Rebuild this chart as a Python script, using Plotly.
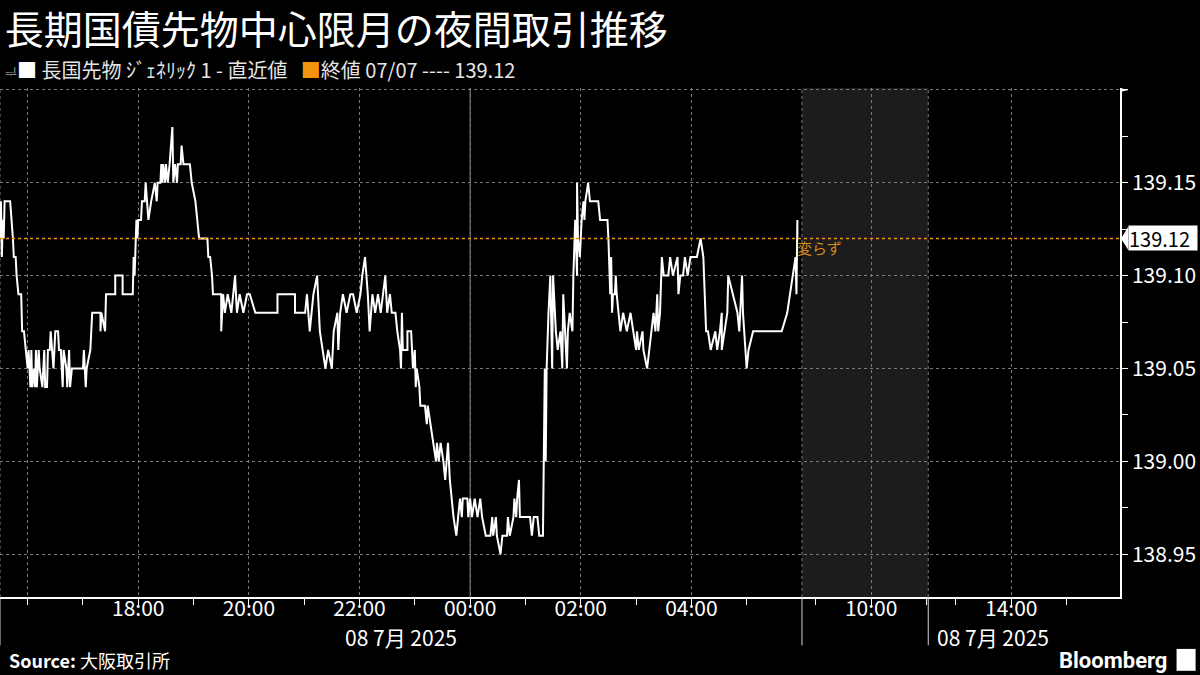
import pandas as pd
import plotly.graph_objects as go


##### DATA
# night session starts 07/07 15:30, times as minutes after the open
session_open = pd.Timestamp("2025-07-07 15:30")

minutes_from_open = [
    0, 1, 2, 3, 4, 5, 9, 11, 14, 15, 17, 18, 20, 23, 24, 26, 28, 30, 31, 33,
    34, 35, 37, 38, 39, 40, 42, 43, 46, 48, 49, 51, 52, 54, 55, 58, 60, 61, 63, 64,
    66, 67, 68, 69, 72, 73, 75, 76, 78, 81, 87, 90, 91, 93, 94, 98, 100, 109, 109, 110,
    114, 115, 125, 125, 133, 133, 144, 145, 146, 148, 149, 150, 153, 154, 157, 158, 161, 164, 168, 170,
    171, 174, 175, 176, 177, 179, 180, 182, 184, 187, 188, 190, 192, 193, 196, 197, 199, 206, 208, 212,
    214, 216, 217, 225, 226, 228, 230, 231, 233, 240, 240, 242, 244, 247, 251, 255, 257, 260, 264, 268,
    271, 277, 301, 301, 320, 320, 331, 333, 336, 340, 344, 347, 350, 353, 356, 360, 362, 366, 367, 369,
    372, 376, 380, 383, 387, 391, 393, 396, 399, 401, 404, 407, 410, 413, 418, 420, 423, 425, 429, 431,
    434, 435, 436, 437, 442, 442, 446, 447, 448, 450, 451, 452, 455, 456, 461, 463, 464, 467, 470, 473,
    474, 476, 478, 481, 483, 486, 488, 492, 495, 497, 499, 501, 502, 507, 508, 510, 512, 515, 518, 521,
    523, 527, 532, 534, 535, 538, 539, 543, 545, 550, 551, 553, 557, 558, 560, 561, 563, 564, 575, 577,
    579, 583, 585, 589, 590, 591, 592, 593, 595, 597, 599, 600, 603, 605, 608, 610, 611, 613, 615, 616,
    618, 621, 622, 624, 626, 626, 627, 629, 631, 633, 634, 635, 638, 640, 649, 651, 659, 660, 662, 663,
    664, 665, 667, 668, 669, 673, 676, 680, 684, 687, 690, 691, 693, 697, 698, 702, 707, 709, 711, 713,
    714, 716, 718, 720, 725, 727, 730, 735, 736, 738, 741, 743, 746, 749, 756, 760, 763, 766, 768, 771,
    776, 778, 781, 783, 783, 789, 790, 795, 800, 802, 805, 806, 810, 812, 817, 848, 854, 860, 863, 864,
    865, 865,
]

price = [
    139.12, 139.14, 139.11, 139.13, 139.12, 139.14, 139.14, 139.14, 139.12, 139.11, 139.11, 139.10, 139.09, 139.09, 139.07, 139.07, 139.06, 139.05, 139.06, 139.04,
    139.06, 139.04, 139.05, 139.04, 139.06, 139.04, 139.06, 139.05, 139.04, 139.06, 139.04, 139.04, 139.06, 139.06, 139.07, 139.05, 139.07, 139.07, 139.07, 139.06,
    139.06, 139.05, 139.04, 139.06, 139.05, 139.04, 139.06, 139.04, 139.05, 139.05, 139.05, 139.05, 139.06, 139.04, 139.05, 139.06, 139.08, 139.08, 139.07, 139.08,
    139.07, 139.09, 139.09, 139.10, 139.10, 139.09, 139.09, 139.11, 139.10, 139.13, 139.12, 139.13, 139.13, 139.14, 139.14, 139.15, 139.13, 139.14, 139.15, 139.14,
    139.15, 139.15, 139.16, 139.15, 139.16, 139.15, 139.16, 139.15, 139.16, 139.18, 139.15, 139.16, 139.15, 139.16, 139.16, 139.17, 139.16, 139.16, 139.15, 139.14,
    139.13, 139.12, 139.12, 139.12, 139.11, 139.11, 139.10, 139.09, 139.09, 139.09, 139.07, 139.09, 139.08, 139.09, 139.08, 139.10, 139.08, 139.09, 139.08, 139.09,
    139.09, 139.08, 139.08, 139.09, 139.09, 139.08, 139.08, 139.09, 139.07, 139.09, 139.10, 139.07, 139.06, 139.05, 139.06, 139.05, 139.07, 139.08, 139.06, 139.08,
    139.09, 139.08, 139.09, 139.09, 139.08, 139.09, 139.10, 139.11, 139.09, 139.07, 139.09, 139.08, 139.09, 139.08, 139.10, 139.08, 139.09, 139.08, 139.08, 139.07,
    139.06, 139.05, 139.08, 139.06, 139.06, 139.07, 139.07, 139.06, 139.05, 139.06, 139.04, 139.05, 139.04, 139.03, 139.03, 139.02, 139.03, 139.02, 139.01, 139.00,
    139.01, 139.00, 139.01, 139.00, 138.99, 139.01, 138.99, 138.97, 138.96, 138.97, 138.98, 138.97, 138.98, 138.98, 138.97, 138.98, 138.97, 138.98, 138.97, 138.98,
    138.97, 138.96, 138.96, 138.97, 138.96, 138.97, 138.96, 138.95, 138.96, 138.96, 138.97, 138.96, 138.97, 138.98, 138.97, 138.98, 138.99, 138.97, 138.97, 138.96,
    138.97, 138.97, 138.96, 138.96, 139.00, 139.05, 139.00, 139.05, 139.08, 139.10, 139.05, 139.10, 139.07, 139.06, 139.07, 139.05, 139.09, 139.07, 139.05, 139.07,
    139.08, 139.07, 139.10, 139.13, 139.10, 139.15, 139.12, 139.11, 139.13, 139.14, 139.13, 139.14, 139.15, 139.14, 139.14, 139.13, 139.13, 139.12, 139.09, 139.11,
    139.08, 139.09, 139.09, 139.10, 139.09, 139.07, 139.08, 139.07, 139.08, 139.07, 139.06, 139.07, 139.06, 139.07, 139.06, 139.05, 139.07, 139.08, 139.07, 139.09,
    139.07, 139.08, 139.11, 139.10, 139.10, 139.11, 139.10, 139.11, 139.09, 139.10, 139.10, 139.11, 139.10, 139.11, 139.11, 139.12, 139.11, 139.07, 139.07, 139.06,
    139.07, 139.06, 139.07, 139.08, 139.06, 139.08, 139.10, 139.09, 139.08, 139.07, 139.10, 139.08, 139.05, 139.06, 139.07, 139.07, 139.08, 139.10, 139.11, 139.09,
    139.13, 139.12,
]

prev_close = 139.12
prev_close_date = "07/07"

x_range = ["2025-07-07 15:30", "2025-07-08 15:58"]
session_breaks = [["2025-07-08 06:00", "2025-07-08 08:45"], ["2025-07-08 11:02", "2025-07-08 12:30"]]
morning_session = ["2025-07-08 08:45", "2025-07-08 11:02"]
midnight = "2025-07-08 00:00"

x_ticks = ["2025-07-07 16:00", "2025-07-07 18:00", "2025-07-07 20:00", "2025-07-07 22:00",
           "2025-07-08 00:00", "2025-07-08 02:00", "2025-07-08 04:00", "2025-07-08 10:00", "2025-07-08 14:00"]
x_tick_text = ["", "18:00", "20:00", "22:00", "00:00", "02:00", "04:00", "10:00", "14:00"]
x_minor = ["2025-07-07 17:00", "2025-07-07 19:00", "2025-07-07 21:00", "2025-07-07 23:00",
           "2025-07-08 01:00", "2025-07-08 03:00", "2025-07-08 05:00", "2025-07-08 09:00",
           "2025-07-08 11:00", "2025-07-08 13:00", "2025-07-08 15:00"]

y_ticks = [138.95, 139.00, 139.05, 139.10, 139.15, 139.20]
y_tick_text = ["138.95", "139.00", "139.05", "139.10", "139.15", ""]
y_minor = [138.975, 139.025, 139.075, 139.125, 139.175]
y_range = [138.927, 139.201]

date_label = "08 7月 2025"


##### BUILD
times = [session_open + pd.Timedelta(minutes=m) for m in minutes_from_open]
night_mid = session_open + (pd.Timestamp(session_breaks[0][0]) - session_open) / 2

FONT = "Noto Sans CJK JP, Noto Sans, sans-serif"
GRID = "#7a7a7a"
ORANGE = "#f0950c"

fig = go.Figure()

fig.add_trace(go.Scatter(
    x=times, y=price, mode="lines",
    line=dict(color="white", width=2),
    showlegend=False, hoverinfo="skip",
))

shapes = []
# morning session shading
shapes.append(dict(type="rect", xref="x", yref="paper", x0=morning_session[0], x1=morning_session[1],
                   y0=0, y1=1, fillcolor="#1c1c1c", line=dict(width=0), layer="below"))
# session separators (inside dashed, below axis solid)
for sep in [x_range[0], session_breaks[0][0], session_breaks[1][0]]:
    shapes.append(dict(type="line", xref="x", yref="paper", x0=sep, x1=sep, y0=0, y1=1,
                       line=dict(color=GRID, width=1, dash="3px,3px"), layer="below"))
    shapes.append(dict(type="line", xref="x", yref="paper", x0=sep, x1=sep, y0=-0.095, y1=0,
                       line=dict(color="#d0d0d0", width=1)))
# day change
shapes.append(dict(type="line", xref="x", yref="paper", x0=midnight, x1=midnight, y0=0, y1=1,
                   line=dict(color="#8c8c8c", width=1), layer="below"))
# previous close
shapes.append(dict(type="line", xref="paper", yref="y", x0=0, x1=1, y0=prev_close, y1=prev_close,
                   line=dict(color=ORANGE, width=1.5, dash="dot")))
# close price marker on axis
shapes.append(dict(type="path", xref="paper", yref="y",
                   path=f"M 1.0009 {prev_close} L 1.0075 {prev_close + 0.0064} L 1.0075 {prev_close - 0.0064} Z",
                   fillcolor="white", line=dict(width=0)))
# arrow on top of y axis
shapes.append(dict(type="path", xref="paper", yref="paper",
                   path="M 1.0 1.0 L 1.0075 0.996 L 1.0 0.992 Z",
                   fillcolor="white", line=dict(width=0)))
# bloomberg icon
shapes.append(dict(type="rect", xref="paper", yref="paper", x0=1.0505, x1=1.0675, y0=-0.145, y1=-0.102,
                   fillcolor="white", line=dict(width=0)))

annotations = [
    dict(xref="paper", yref="paper", x=0.003, y=1.0354, xanchor="left", yanchor="middle", showarrow=False,
         text=f"<span style='color:#9a9a9a;font-size:13px'>ᆗ</span><span style='color:#ffffff'>■</span> 長国先物 ｼﾞｪﾈﾘｯｸ 1 - 直近値   "
              f"<span style='color:{ORANGE}'>■</span>終値 {prev_close_date} ---- {prev_close:.2f}",
         font=dict(family=FONT, size=20, color="#e6e6e6")),
    dict(xref="x", yref="y", x=times[-1], y=prev_close, xanchor="left", yanchor="top", showarrow=False,
         text="変らず", font=dict(family=FONT, size=15, color="#d98a14"), xshift=-2, yshift=3),
    dict(xref="paper", yref="y", x=1.0075, y=prev_close, xanchor="left", yanchor="middle", showarrow=False,
         text=f"{prev_close:.2f}", font=dict(family=FONT, size=20, color="black"),
         bgcolor="white", borderpad=0, width=68, height=24, align="left"),
    dict(xref="x", yref="paper", x=night_mid, y=-0.078, xanchor="center", yanchor="middle", showarrow=False,
         text=date_label, font=dict(family=FONT, size=21, color="white")),
    dict(xref="x", yref="paper", x=session_breaks[1][1], y=-0.078, xanchor="left", yanchor="middle", showarrow=False,
         text=date_label, font=dict(family=FONT, size=21, color="white"), xshift=7),
    dict(xref="paper", yref="paper", x=0.006, y=-0.124, xanchor="left", yanchor="middle", showarrow=False,
         text="<b>Source:</b> 大阪取引所", font=dict(family=FONT, size=18, color="white")),
    dict(xref="paper", yref="paper", x=1.044, y=-0.124, xanchor="right", yanchor="middle", showarrow=False,
         text="<b>Bloomberg</b>", font=dict(family="Roboto, Noto Sans, sans-serif", size=22, color="white")),
]

fig.update_layout(
    width=1200, height=675,
    margin=dict(l=0, r=80, t=88, b=78),
    paper_bgcolor="black", plot_bgcolor="black",
    font=dict(family=FONT, color="white"),
    title=dict(text="長期国債先物中心限月の夜間取引推移", x=0.004, xanchor="left", y=0.955, yanchor="middle",
               font=dict(family=FONT, size=39, color="white")),
    shapes=shapes, annotations=annotations,
    showlegend=False,
)

fig.update_xaxes(
    type="date", range=x_range,
    rangebreaks=[dict(bounds=b) for b in session_breaks],
    tickmode="array", tickvals=x_ticks, ticktext=x_tick_text,
    ticks="outside", ticklen=6, tickcolor="white", ticklabelstandoff=-14,
    tickfont=dict(family=FONT, size=21, color="white"),
    showgrid=True, gridcolor=GRID, griddash="3px,3px", gridwidth=1,
    minor=dict(tickmode="array", tickvals=x_minor, ticks="outside", ticklen=6, tickcolor="white", showgrid=False),
    showline=True, linecolor="white", linewidth=1.5, zeroline=False,
)

fig.update_yaxes(
    side="right", range=y_range,
    tickmode="array", tickvals=y_ticks, ticktext=y_tick_text,
    ticks="outside", ticklen=6, tickcolor="white",
    tickfont=dict(family=FONT, size=21, color="white"),
    showgrid=True, gridcolor=GRID, griddash="3px,3px", gridwidth=1,
    minor=dict(tickmode="array", tickvals=y_minor, ticks="outside", ticklen=6, tickcolor="white", showgrid=False),
    showline=True, linecolor="white", linewidth=1.5, zeroline=False,
)

# drop the default page margin so the figure sits at the window's corner
fig.write_html("out.html", config={"displayModeBar": False},
               post_script="document.body.style.margin='0';")
